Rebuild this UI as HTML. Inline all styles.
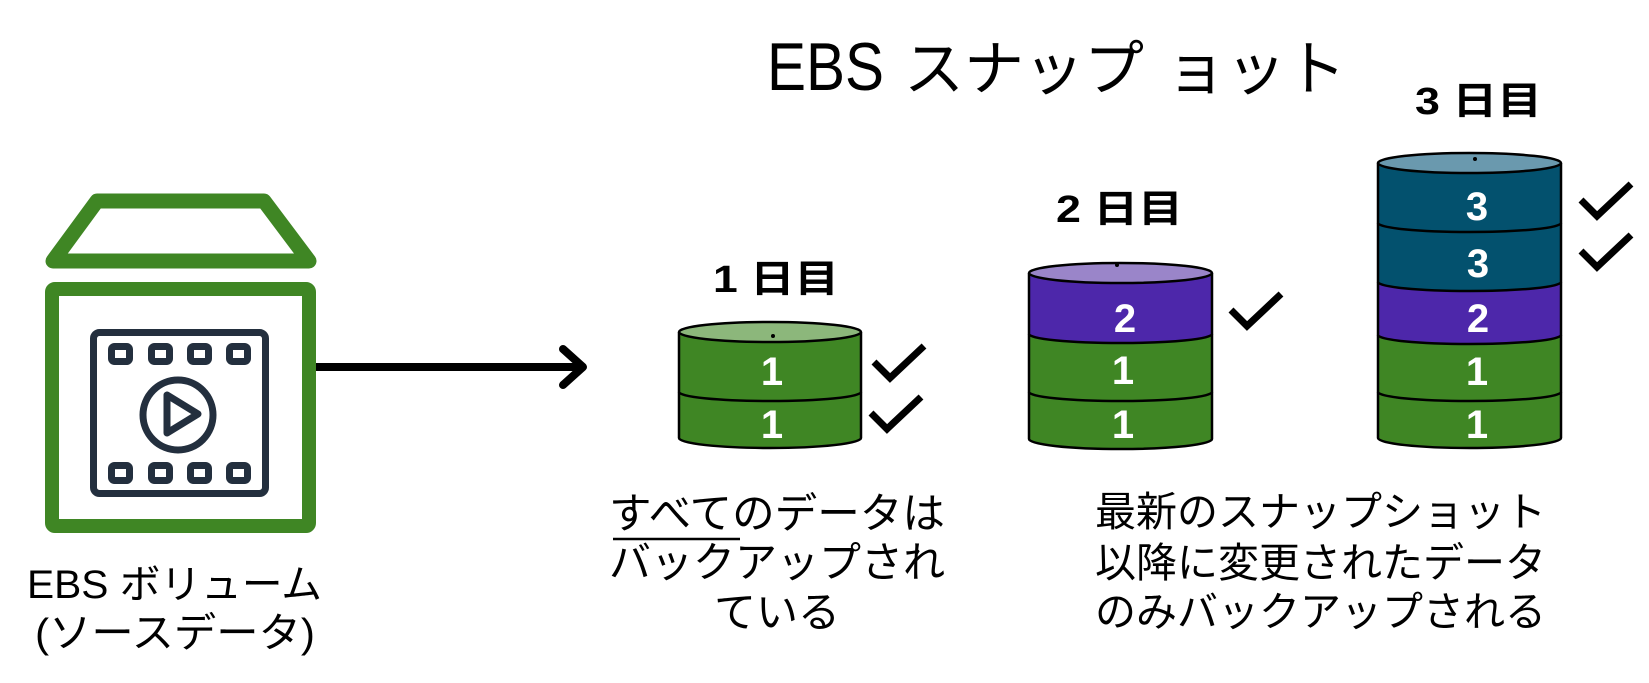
<!DOCTYPE html>
<html><head><meta charset="utf-8"><style>
html,body{margin:0;padding:0;background:#fff;}
svg{display:block;}
text{font-family:"Liberation Sans","Noto Sans CJK JP",sans-serif;}
</style></head><body>
<svg width="1649" height="683" viewBox="0 0 1649 683" xmlns="http://www.w3.org/2000/svg">
<rect width="1649" height="683" fill="#fff"/>

<!-- Title -->
<text x="767" y="90" font-size="68" textLength="117" lengthAdjust="spacingAndGlyphs" fill="#000">EBS</text>
<text x="904" y="90" font-size="60" textLength="240" lengthAdjust="spacingAndGlyphs" fill="#000">スナップ</text>
<text x="1166" y="90" font-size="60" textLength="180" lengthAdjust="spacingAndGlyphs" fill="#000">ョット</text>

<!-- Volume icon -->
<polygon points="97,201 264,201 309,261 53,261" fill="none" stroke="#3F8624" stroke-width="15" stroke-linejoin="round"/>
<rect x="52" y="289" width="257" height="237" rx="3" fill="none" stroke="#3F8624" stroke-width="14"/>
<g fill="#fff" stroke="#232F3E" stroke-width="7">
  <rect x="93.5" y="332.5" width="172" height="161" rx="6"/>
  <rect x="111.5" y="346.5" width="18" height="15" rx="3"/>
  <rect x="151.5" y="346.5" width="18" height="15" rx="3"/>
  <rect x="190.5" y="346.5" width="18" height="15" rx="3"/>
  <rect x="229.5" y="346.5" width="18" height="15" rx="3"/>
  <rect x="111.5" y="465.5" width="18" height="15" rx="3"/>
  <rect x="151.5" y="465.5" width="18" height="15" rx="3"/>
  <rect x="190.5" y="465.5" width="18" height="15" rx="3"/>
  <rect x="229.5" y="465.5" width="18" height="15" rx="3"/>
  <circle cx="178" cy="415" r="35"/>
  <polygon points="167,395 167,433 198,414" stroke-linejoin="round"/>
</g>
<text x="27" y="598" font-size="40" textLength="295" lengthAdjust="spacingAndGlyphs" fill="#000">EBS ボリューム</text>
<text x="35" y="647" font-size="41" textLength="280" lengthAdjust="spacingAndGlyphs" fill="#000">(ソースデータ)</text>

<!-- Arrow -->
<line x1="316" y1="367" x2="582" y2="367" stroke="#000" stroke-width="8"/>
<polyline points="563,349 583,367 563,385" fill="none" stroke="#000" stroke-width="8" stroke-linecap="round" stroke-linejoin="round"/>

<!-- Day labels -->
<text x="713" y="292" font-size="38" font-weight="bold" textLength="126" lengthAdjust="spacingAndGlyphs" fill="#000">1 日目</text>
<text x="1056" y="222" font-size="38" font-weight="bold" textLength="127" lengthAdjust="spacingAndGlyphs" fill="#000">2 日目</text>
<text x="1415" y="114" font-size="38" font-weight="bold" textLength="127" lengthAdjust="spacingAndGlyphs" fill="#000">3 日目</text>

<!-- Day 1 cylinder -->
<g stroke="none">
  <path d="M679,332 A91,10 0 0 0 861,332 L861,392 A91,9 0 0 1 679,392 Z" fill="#3F8624"/>
  <path d="M679,392 A91,9 0 0 0 861,392 L861,438 A91,10 0 0 1 679,438 Z" fill="#3F8624"/>
</g>
<g fill="none" stroke="#000" stroke-width="2.5">
  <path d="M679,332 L679,438 A91,10 0 0 0 861,438 L861,332"/>
  <path d="M679,392 A91,9 0 0 0 861,392"/>
</g>
<ellipse cx="770" cy="332" rx="91" ry="10" fill="#8CB77B" stroke="#000" stroke-width="2.5"/>
<circle cx="773" cy="336" r="2" fill="#000"/>
<g font-size="40" font-weight="bold" fill="#fff" text-anchor="middle">
  <text x="772" y="385">1</text>
  <text x="772" y="438">1</text>
</g>

<!-- Day 2 cylinder -->
<path d="M1029,273 A91.5,10 0 0 0 1212,273 L1212,334 A91.5,9 0 0 1 1029,334 Z" fill="#4D27AA"/>
<path d="M1029,334 A91.5,9 0 0 0 1212,334 L1212,392 A91.5,9 0 0 1 1029,392 Z" fill="#3F8624"/>
<path d="M1029,392 A91.5,9 0 0 0 1212,392 L1212,439 A91.5,10 0 0 1 1029,439 Z" fill="#3F8624"/>
<g fill="none" stroke="#000" stroke-width="2.5">
  <path d="M1029,273 L1029,439 A91.5,10 0 0 0 1212,439 L1212,273"/>
  <path d="M1029,334 A91.5,9 0 0 0 1212,334"/>
  <path d="M1029,392 A91.5,9 0 0 0 1212,392"/>
</g>
<ellipse cx="1120.5" cy="273" rx="91.5" ry="10" fill="#9A85C9" stroke="#000" stroke-width="2.5"/>
<circle cx="1117" cy="265" r="2" fill="#000"/>
<g font-size="40" font-weight="bold" fill="#fff" text-anchor="middle">
  <text x="1125" y="332">2</text>
  <text x="1123" y="384">1</text>
  <text x="1123" y="438">1</text>
</g>

<!-- Day 3 cylinder -->
<path d="M1378,163 A91.5,10 0 0 0 1561,163 L1561,223 A91.5,9 0 0 1 1378,223 Z" fill="#03516E"/>
<path d="M1378,223 A91.5,9 0 0 0 1561,223 L1561,282 A91.5,9 0 0 1 1378,282 Z" fill="#03516E"/>
<path d="M1378,282 A91.5,9 0 0 0 1561,282 L1561,335 A91.5,9 0 0 1 1378,335 Z" fill="#4D27AA"/>
<path d="M1378,335 A91.5,9 0 0 0 1561,335 L1561,392 A91.5,9 0 0 1 1378,392 Z" fill="#3F8624"/>
<path d="M1378,392 A91.5,9 0 0 0 1561,392 L1561,438 A91.5,10 0 0 1 1378,438 Z" fill="#3F8624"/>
<g fill="none" stroke="#000" stroke-width="2.5">
  <path d="M1378,163 L1378,438 A91.5,10 0 0 0 1561,438 L1561,163"/>
  <path d="M1378,223 A91.5,9 0 0 0 1561,223"/>
  <path d="M1378,282 A91.5,9 0 0 0 1561,282"/>
  <path d="M1378,335 A91.5,9 0 0 0 1561,335"/>
  <path d="M1378,392 A91.5,9 0 0 0 1561,392"/>
</g>
<ellipse cx="1469.5" cy="163" rx="91.5" ry="10" fill="#6A99AE" stroke="#000" stroke-width="2.5"/>
<circle cx="1475" cy="159" r="2" fill="#000"/>
<g font-size="40" font-weight="bold" fill="#fff" text-anchor="middle">
  <text x="1477" y="220">3</text>
  <text x="1478" y="277">3</text>
  <text x="1478" y="332">2</text>
  <text x="1477" y="385">1</text>
  <text x="1477" y="438">1</text>
</g>

<!-- Checkmarks -->
<g fill="none" stroke="#000" stroke-width="7" stroke-linejoin="miter">
  <polyline points="874,362 890,378 924,346"/>
  <polyline points="871,413 887,429 921,397"/>
  <polyline points="1231,310 1247,326 1281,294"/>
  <polyline points="1581,200 1597,216 1631,184"/>
  <polyline points="1581,251 1597,267 1631,235"/>
</g>

<!-- Text block 1 -->
<g font-size="42" fill="#000">
  <text x="609" y="528" textLength="336" lengthAdjust="spacingAndGlyphs">すべてのデータは</text>
  <text x="609" y="577" textLength="336" lengthAdjust="spacingAndGlyphs">バックアップされ</text>
  <text x="714" y="627" textLength="126" lengthAdjust="spacingAndGlyphs">ている</text>
</g>
<line x1="613" y1="539" x2="740" y2="539" stroke="#000" stroke-width="2.5"/>

<!-- Text block 2 -->
<g font-size="41" fill="#000">
  <text x="1095" y="526" textLength="451" lengthAdjust="spacingAndGlyphs">最新のスナップショット</text>
  <text x="1095" y="577" textLength="451" lengthAdjust="spacingAndGlyphs">以降に変更されたデータ</text>
  <text x="1095" y="626" textLength="451" lengthAdjust="spacingAndGlyphs">のみバックアップされる</text>
</g>
</svg>
</body></html>
